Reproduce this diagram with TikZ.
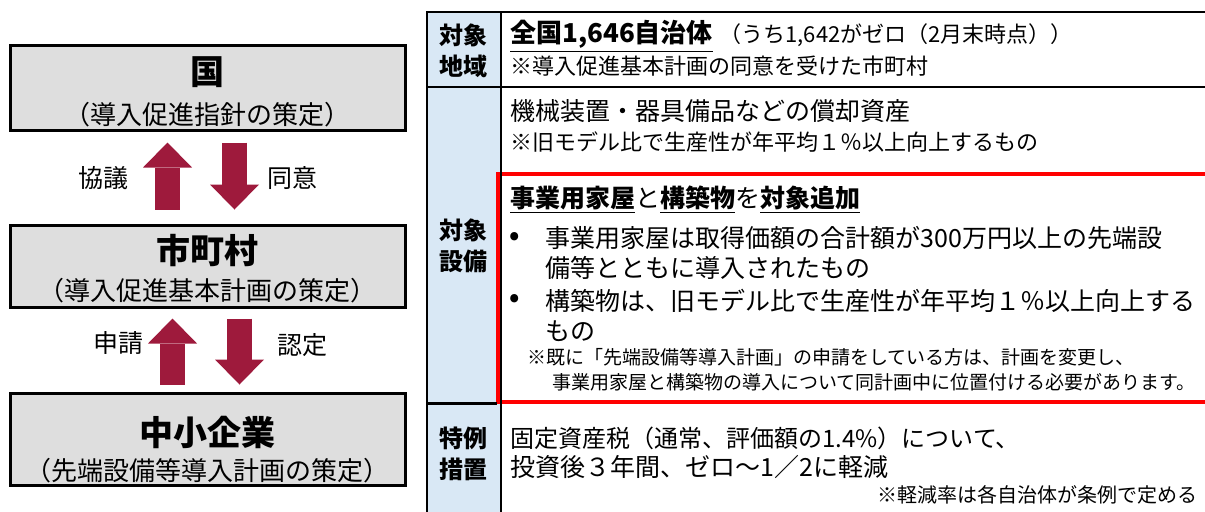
\documentclass[tikz,border=0pt]{standalone}
\usepackage{fontspec}
\setmainfont{Noto Sans CJK JP}
\usepackage{tikz}
\usetikzlibrary{positioning, calc, arrows.meta}

\definecolor{wine}{HTML}{9E1A3C}
\definecolor{boxgray}{HTML}{DEDEDE}
\definecolor{headblue}{HTML}{D9E8F5}
\newcommand{\fsz}[2]{\fontsize{#1pt}{#2pt}\selectfont}

\begin{document}
\begin{tikzpicture}[x=0.5pt, y=-0.5pt,
    stage/.style={draw, line width=1.5pt, fill=boxgray, minimum width=197.5pt, inner sep=0pt},
    stagetxt/.style={align=center, inner sep=0pt},
    flow/.style={wine, line width=12.5pt, -{Triangle[width=24.5pt, length=12.5pt, line width=0pt]}},
    side/.style={font=\fsz{12.5}{15}},
    head/.style={font=\bfseries\fsz{12}{15.5}, align=center},
    cell/.style={anchor=west, inner sep=0pt},
    rule/.style={line width=1.2pt}]
    \useasboundingbox (0,0) rectangle (1205,511);
    \clip (0,0) rectangle (1205,511);

    % left: who draws up which plan
    \node[stage, minimum height=42.5pt] (nation) at (207.5,87.5) {};
    \node[stage, minimum height=41pt, below=46pt of nation] (city) {};
    \node[stage, minimum height=46pt, below=41.5pt of city] (sme) {};

    \node[stagetxt, font=\fsz{13}{20}] (nationtxt) at ($(nation)+(0,4.5)$) {{\bfseries\fsz{17}{20}国}\\（導入促進指針の策定）};
    \node[stagetxt, font=\fsz{13}{18.5}] (citytxt) at ($(city)+(0,2.5)$) {{\bfseries\fsz{17}{18.5}市町村}\\（導入促進基本計画の策定）};
    \node[stagetxt, font=\fsz{13}{17.5}] (smetxt) at ($(sme)+(0,11)$) {{\bfseries\fsz{17}{17.5}中小企業}\\（先端設備等導入計画の策定）};

    \coordinate (up1) at (167.5,0);
    \coordinate (down1) at (234.5,0);
    \coordinate (up2) at (172.5,0);
    \coordinate (down2) at (239.5,0);

    \draw[flow, shorten <=7pt, shorten >=5.5pt] (up1 |- city.north) -- (up1 |- nation.south);
    \draw[flow, shorten <=5.5pt, shorten >=7pt] (down1 |- nation.south) -- (down1 |- city.north);
    \draw[flow, shorten <=3.5pt, shorten >=5pt] (up2 |- sme.north) -- (up2 |- city.south);
    \draw[flow, shorten <=5pt, shorten >=3.5pt] (down2 |- city.south) -- (down2 |- sme.north);

    \node[side] (consult) at (103,178) {協議};
    \node[side] (agree) at (292,178) {同意};
    \node[side] (apply) at (118,343) {申請};
    \node[side] (approve) at (302,345) {認定};

    % right: table
    \fill[headblue] (427,12) rectangle (501,515);
    \draw[red, line width=2pt] (1210,174) -- (497.5,174) -- (497.5,402) -- (1210,402);
    \draw[rule] (1210,12) -- (427,12) -- (427,515);
    \draw[rule] (501,12) -- (501,515);
    \draw[rule] (427,87) -- (1210,87);
    \draw[rule] (427,403.5) -- (497,403.5);

    \node[head] (areahd) at (463,51) {対象\\地域};
    \node[head] (equiphd) at (463,246) {対象\\設備};
    \node[head] (taxhd) at (463,454) {特例\\措置};

    \node[cell, font=\bfseries\fsz{13}{15}] (area) at (510,36) {\underline{全国1,646自治体}};
    \node[font=\fsz{11}{13}, inner sep=0pt, right=3pt of area.base east, anchor=base west] (areazero) {（うち1,642がゼロ（2月末時点））};
    \node[cell, font=\fsz{11}{13}] (areanote) at (510,66) {※導入促進基本計画の同意を受けた市町村};

    \node[cell, font=\fsz{12.5}{15}] (asset) at (510,111) {機械装置・器具備品などの償却資産};
    \node[cell, font=\fsz{11}{13}] (assetnote) at (510,142) {※旧モデル比で生産性が年平均１％以上向上するもの};

    \node[cell, font=\fsz{12.5}{15}] (added) at (510,200) {{\bfseries\underline{事業用家屋}}と{\bfseries\underline{構築物}}を{\bfseries\underline{対象追加}}};
    \node[cell, font=\bfseries\fsz{13}{15}] (dot1) at (509,238) {•};
    \node[cell, align=left, font=\fsz{12.5}{15}] (house) at (545,253) {事業用家屋は取得価額の合計額が300万円以上の先端設\\備等とともに導入されたもの};
    \node[cell, font=\bfseries\fsz{13}{15}] (dot2) at (509,300) {•};
    \node[cell, align=left, font=\fsz{12.5}{15}] (struct) at (545,315) {構築物は、旧モデル比で生産性が年平均１％以上向上する\\もの};
    \node[cell, font=\fsz{9.5}{12.5}] (already) at (527,357) {※既に「先端設備等導入計画」の申請をしている方は、計画を変更し、};
    \node[cell, font=\fsz{9.5}{12.5}] (already2) at (552,382) {事業用家屋と構築物の導入について同計画中に位置付ける必要があります。};

    \node[cell, font=\fsz{12}{14}] (taxcut) at (510,438) {固定資産税（通常、評価額の1.4\%）について、};
    \node[cell, font=\fsz{12.5}{14}] (taxcut2) at (510,467) {投資後３年間、ゼロ～1／2に軽減};
    \node[cell, anchor=east, font=\fsz{10}{12}] (taxnote) at (1198,495) {※軽減率は各自治体が条例で定める};
\end{tikzpicture}
\end{document}
